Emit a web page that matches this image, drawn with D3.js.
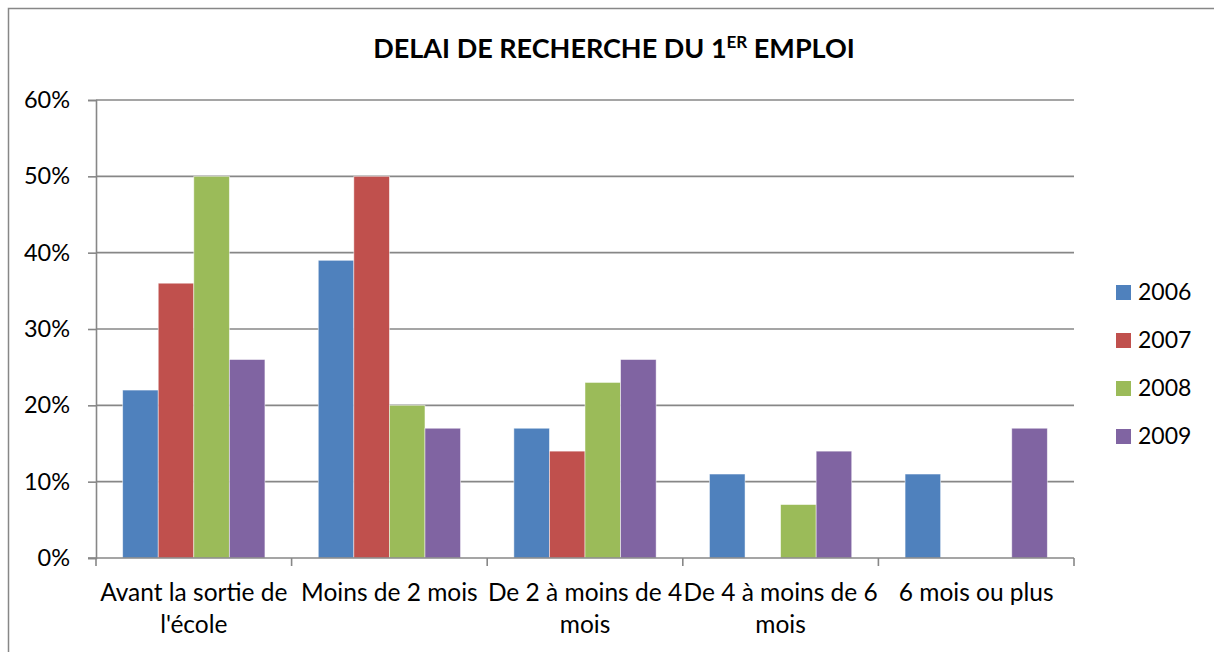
<!DOCTYPE html>
<html>
<head>
<meta charset="utf-8">
<script src="https://cdn.jsdelivr.net/npm/d3@7"></script>
<style>
  body { margin: 0; background: #fff; }
  text { font-family: Lato, "Open Sans", sans-serif; fill: #000; }
</style>
</head>
<body>
<div id="chart"></div>
<script>
/* DATA */
const categories = ["Avant la sortie de l'école", "Moins de 2 mois", "De 2 à moins de 4 mois", "De 4 à moins de 6 mois", "6 mois ou plus"];
const years = ["2006", "2007", "2008", "2009"];
const values2006 = [0.22, 0.39, 0.17, 0.11, 0.11];
const values2007 = [0.36, 0.50, 0.14, 0, 0];
const values2008 = [0.50, 0.20, 0.23, 0.07, 0];
const values2009 = [0.26, 0.17, 0.26, 0.14, 0.17];
const yTicks = [0, 0.1, 0.2, 0.3, 0.4, 0.5, 0.6];
const colors = ["#4F81BD", "#C0504D", "#9BBB59", "#8064A2"];

const seriesValues = [values2006, values2007, values2008, values2009];

/* CONSTANTS */
const width = 1214;
const height = 652;
const plot = { left: 96, right: 1074, top: 100, bottom: 558 };
const gridColor = "#878787";

const svg = d3.select("#chart")
  .append("svg")
  .attr("width", width)
  .attr("height", height);

// outer chart border (runs off the right and bottom edges)
svg.append("rect")
  .attr("x", 8.5)
  .attr("y", 8.5)
  .attr("width", 1230)
  .attr("height", 680)
  .attr("fill", "none")
  .attr("stroke", gridColor)
  .attr("stroke-width", 1.5);

/* SCALES */
const x0 = d3.scaleBand()
  .domain(categories)
  .range([plot.left, plot.right])
  .padding(0);

const gap = x0.bandwidth() * 1.5 / 5.5 / 2; // excel gap width 150%
const x1 = d3.scaleBand()
  .domain(years)
  .range([gap, x0.bandwidth() - gap])
  .padding(0);

const y = d3.scaleLinear()
  .domain([0, 0.6])
  .range([plot.bottom, plot.top]);

/* GRIDLINES */
svg.append("g")
  .selectAll("line")
  .data(yTicks.slice(1))
  .join("line")
  .attr("x1", plot.left)
  .attr("x2", plot.right)
  .attr("y1", d => y(d))
  .attr("y2", d => y(d))
  .attr("stroke", gridColor)
  .attr("stroke-width", 1.6);

/* BARS */
const rows = categories.map((c, i) => ({
  cat: c,
  vals: years.map((yr, j) => ({ year: yr, value: seriesValues[j][i], color: colors[j] }))
}));

const groups = svg.append("g")
  .selectAll("g")
  .data(rows)
  .join("g")
  .attr("transform", d => `translate(${x0(d.cat)},0)`);

groups.selectAll("rect")
  .data(d => d.vals.filter(v => v.value > 0))
  .join("rect")
  .attr("x", d => x1(d.year))
  .attr("y", d => y(d.value))
  .attr("width", x1.bandwidth())
  .attr("height", d => y(0) - y(d.value))
  .attr("fill", d => d.color)
  .attr("stroke", "rgba(255,255,255,0.6)")
  .attr("stroke-width", 0.8);

/* Y AXIS */
const yAxis = svg.append("g")
  .attr("transform", `translate(${plot.left},0)`)
  .call(d3.axisLeft(y).tickValues(yTicks).tickFormat(d => Math.round(d * 100) + "%").tickSize(8).tickPadding(18));

yAxis.select(".domain").attr("stroke", gridColor).attr("stroke-width", 1.6);
yAxis.selectAll(".tick line").attr("stroke", gridColor).attr("stroke-width", 1.6);
yAxis.selectAll(".tick text")
  .style("font-size", "23.5px")
  .style("font-family", "Lato, 'Open Sans', sans-serif")
  .attr("fill", "#000");

/* X AXIS */
const boundaries = categories.map(c => x0(c)).concat([plot.right]);
const xAxis = svg.append("g");
xAxis.append("line")
  .attr("x1", plot.left - 8)
  .attr("x2", plot.right)
  .attr("y1", plot.bottom)
  .attr("y2", plot.bottom)
  .attr("stroke", gridColor)
  .attr("stroke-width", 1.6);
xAxis.selectAll(".xtick")
  .data(boundaries)
  .join("line")
  .attr("class", "xtick")
  .attr("x1", d => d)
  .attr("x2", d => d)
  .attr("y1", plot.bottom)
  .attr("y2", plot.bottom + 8)
  .attr("stroke", gridColor)
  .attr("stroke-width", 1.6);

const xLabels = xAxis.selectAll(".xlabel")
  .data(categories)
  .join("text")
  .attr("class", "xlabel")
  .attr("x", d => x0(d) + x0.bandwidth() / 2)
  .attr("y", 601)
  .attr("text-anchor", "middle")
  .style("font-size", "24.5px")
  .text(d => d);

// wrap labels to the band width
xLabels.each(function (d) {
  const t = d3.select(this);
  const words = d.split(" ");
  const cx = x0(d) + x0.bandwidth() / 2;
  const maxW = x0.bandwidth() + 12;
  t.text(null);
  let line = [];
  let tspan = t.append("tspan").attr("x", cx).attr("dy", 0);
  words.forEach(w => {
    line.push(w);
    tspan.text(line.join(" "));
    if (tspan.node().getComputedTextLength() > maxW && line.length > 1) {
      line.pop();
      tspan.text(line.join(" "));
      line = [w];
      tspan = t.append("tspan").attr("x", cx).attr("dy", 32).text(w);
    }
  });
});

/* TITLE */
const title = svg.append("text")
  .attr("x", 614)
  .attr("y", 58)
  .attr("text-anchor", "middle")
  .style("font-size", "27px")
  .style("font-weight", "bold");
title.append("tspan").text("DELAI DE RECHERCHE DU 1");
title.append("tspan").text("ER").style("font-size", "17px").attr("dy", -10);
title.append("tspan").text(" EMPLOI").attr("dy", 10);

/* LEGEND */
const legend = svg.append("g")
  .selectAll("g")
  .data(years)
  .join("g")
  .attr("transform", (d, i) => `translate(1116,${285 + i * 48})`);

legend.append("rect")
  .attr("width", 15)
  .attr("height", 15)
  .attr("fill", (d, i) => colors[i]);

legend.append("text")
  .attr("x", 22)
  .attr("y", 15)
  .style("font-size", "23px")
  .text(d => d);
</script>
</body>
</html>
